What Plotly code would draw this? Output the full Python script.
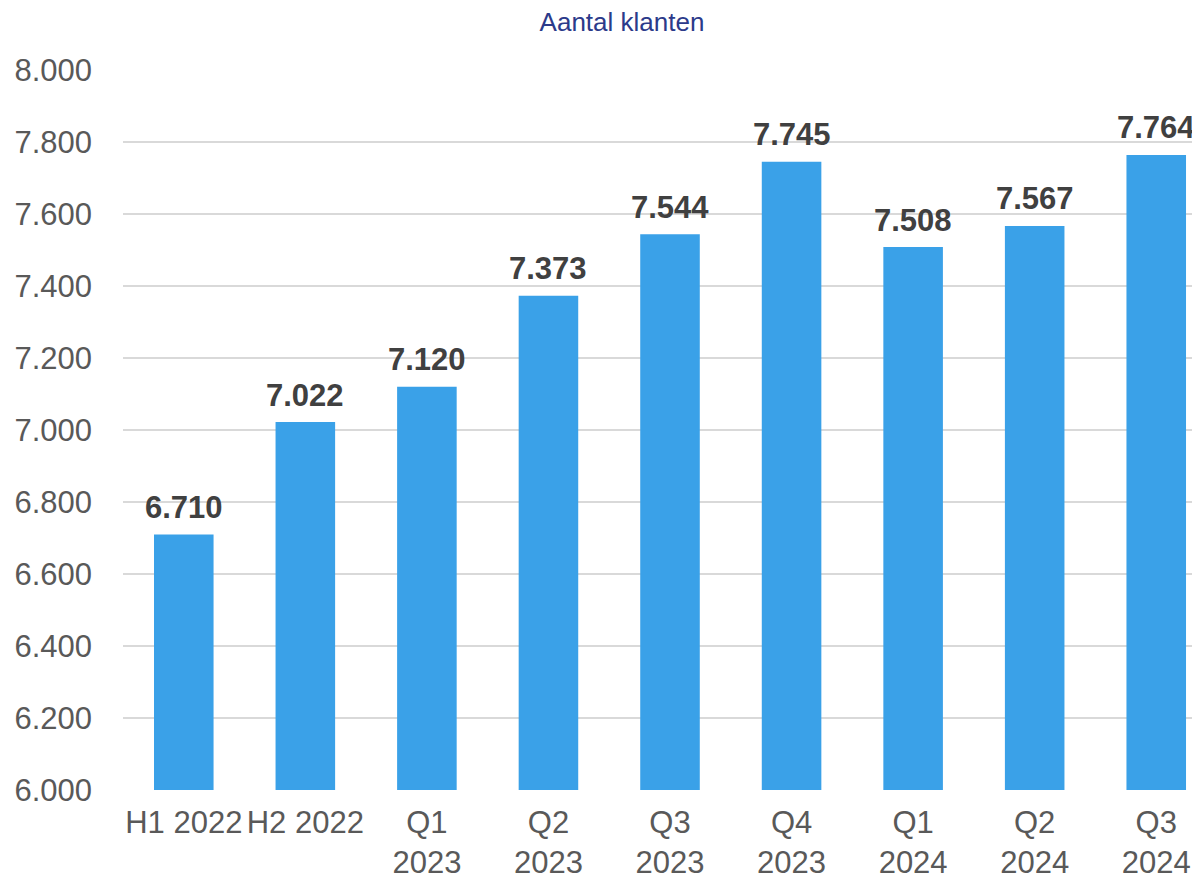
import plotly.graph_objects as go

categories = ["H1 2022", "H2 2022", "Q1<br>2023", "Q2<br>2023", "Q3<br>2023",
              "Q4<br>2023", "Q1<br>2024", "Q2<br>2024", "Q3<br>2024"]
klanten = [6710, 7022, 7120, 7373, 7544, 7745, 7508, 7567, 7764]
y_ticks = [6000, 6200, 6400, 6600, 6800, 7000, 7200, 7400, 7600, 7800, 8000]

FONT = "Liberation Sans, Arial"

fig = go.Figure(go.Bar(
    x=categories, y=klanten,
    marker=dict(color="#3AA1E8", line=dict(width=0)),
    width=0.49,
))

for c, v in zip(categories, klanten):
    fig.add_annotation(
        x=c, y=v, text=f"{v:,}".replace(",", "."), showarrow=False,
        yanchor="middle", yshift=27, xanchor="center",
        font=dict(family=FONT, size=31, color="#404040", weight="bold"),
    )

fig.update_layout(
    width=1192, height=872,
    separators=",.",
    paper_bgcolor="white", plot_bgcolor="white",
    margin=dict(l=115, r=0, t=62, b=90),
    font=dict(family=FONT, color="#595959"),
    title=dict(text="Aantal klanten", x=614/1192, xanchor="center", y=1 - 5/872, yanchor="top",
               font=dict(size=26, color="#2B3A8A", family=FONT)),
    showlegend=False,
)
fig.update_xaxes(range=[-0.5, 8.36], tickfont=dict(size=31, color="#595959"),
                 showgrid=False, showline=False, ticks="", tickangle=0,
                 ticklabelstandoff=11)
fig.update_yaxes(range=[6000, 8000], tickvals=y_ticks, tickformat=",",
                 tickfont=dict(size=31, color="#595959"),
                 showgrid=True, gridcolor="#D9D9D9", gridwidth=1.5,
                 zeroline=False, showline=False, ticks="", ticklabelstandoff=30)

fig.write_html("out.html")
